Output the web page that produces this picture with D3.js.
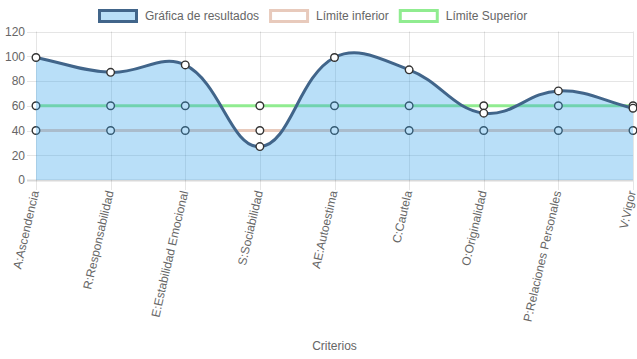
<!DOCTYPE html>
<html>
<head>
<meta charset="utf-8">
<script src="https://cdn.jsdelivr.net/npm/d3@7"></script>
<style>
  body { margin: 0; background: #fff; }
  svg text { font-family: "Liberation Sans", Arial, sans-serif; fill: #666; }
</style>
</head>
<body>
<svg id="chart" width="637" height="359"></svg>
<script>
// Criterios y resultados del perfil
const criterios = [
  "A:Ascendencia",
  "R:Responsabilidad",
  "E:Estabilidad Emocional",
  "S:Sociabilidad",
  "AE:Autoestima",
  "C:Cautela",
  "O:Originalidad",
  "P:Relaciones Personales",
  "V:Vigor",
];
const resultados = [99, 87, 93, 27, 99, 89, 54, 72, 58];
const limiteInferior = [40, 40, 40, 40, 40, 40, 40, 40, 40];
const limiteSuperior = [60, 60, 60, 60, 60, 60, 60, 60, 60];
const yTicks = [0, 20, 40, 60, 80, 100, 120];

const legendItems = [
  { label: "Gráfica de resultados", stroke: "#41658a", fill: "rgba(54,162,235,0.35)" },
  { label: "Límite inferior", stroke: "rgb(232,202,188)", fill: "#fff" },
  { label: "Límite Superior", stroke: "rgb(144,236,144)", fill: "#fff" },
];

const plotLeft = 36;
const plotRight = 633;
const plotTop = 31.5;
const plotBottom = 180;

const svg = d3.select("#chart");

const x = d3.scalePoint().domain(criterios).range([plotLeft, plotRight]);
const y = d3.scaleLinear().domain([0, 120]).range([plotBottom, plotTop]);

// gridlines
const grid = svg.append("g");
grid
  .selectAll(".hgrid")
  .data(yTicks)
  .enter()
  .append("line")
  .attr("x1", plotLeft - 9)
  .attr("x2", plotRight)
  .attr("y1", (d) => Math.round(y(d)) + 0.5)
  .attr("y2", (d) => Math.round(y(d)) + 0.5)
  .attr("stroke", (d) => (d === 0 ? "rgba(0,0,0,0.15)" : "rgba(0,0,0,0.1)"))
  .attr("stroke-width", (d) => (d === 0 ? 2 : 1));

grid
  .selectAll(".vgrid")
  .data(criterios)
  .enter()
  .append("line")
  .attr("x1", (d) => Math.round(x(d)) + 0.5)
  .attr("x2", (d) => Math.round(x(d)) + 0.5)
  .attr("y1", plotTop)
  .attr("y2", plotBottom + 10)
  .attr("stroke", "rgba(0,0,0,0.1)");

// y axis labels via d3 axis
const yAxis = svg
  .append("g")
  .attr("transform", `translate(${plotLeft - 11},0)`)
  .call(d3.axisLeft(y).tickValues(yTicks).tickSize(0).tickPadding(0));
yAxis.select(".domain").remove();
yAxis.selectAll("text").style("font-size", "12px").attr("fill", "#666");

// x axis labels
const xAxis = svg
  .append("g")
  .attr("transform", `translate(0,${plotBottom})`)
  .call(d3.axisBottom(x).tickSize(0).tickPadding(0));
xAxis.select(".domain").remove();
xAxis
  .selectAll("text")
  .style("font-size", "12px")
  .attr("fill", "#666")
  .attr("text-anchor", "end")
  .attr("y", 0)
  .attr("dy", "0.3em")
  .attr("transform", "translate(-1,11) rotate(-77)");

// axis title
svg
  .append("text")
  .attr("x", (plotLeft + plotRight) / 2)
  .attr("y", 350)
  .attr("text-anchor", "middle")
  .style("font-size", "12px")
  .text("Criterios");

// Chart.js-like spline (tension 0.4)
const splinePath = (values, closeToBase) => {
  const pts = values.map((v, i) => ({ x: x(criterios[i]), y: y(v) }));
  const t = 0.4;
  const clampY = (v) => Math.max(plotTop, Math.min(plotBottom, v));
  pts.forEach((cur, i) => {
    const prev = pts[i - 1] || cur;
    const next = pts[i + 1] || cur;
    const d01 = Math.hypot(cur.x - prev.x, cur.y - prev.y);
    const d12 = Math.hypot(next.x - cur.x, next.y - cur.y);
    let s01 = d01 / (d01 + d12);
    let s12 = d12 / (d01 + d12);
    if (isNaN(s01)) s01 = 0;
    if (isNaN(s12)) s12 = 0;
    const fa = t * s01;
    const fb = t * s12;
    cur.cpPrev = { x: cur.x - fa * (next.x - prev.x), y: clampY(cur.y - fa * (next.y - prev.y)) };
    cur.cpNext = { x: cur.x + fb * (next.x - prev.x), y: clampY(cur.y + fb * (next.y - prev.y)) };
  });
  const p = d3.path();
  p.moveTo(pts[0].x, pts[0].y);
  for (let i = 1; i < pts.length; i++) {
    const a = pts[i - 1];
    const b = pts[i];
    p.bezierCurveTo(a.cpNext.x, a.cpNext.y, b.cpPrev.x, b.cpPrev.y, b.x, b.y);
  }
  if (closeToBase) {
    p.lineTo(pts[pts.length - 1].x, y(0));
    p.lineTo(pts[0].x, y(0));
    p.closePath();
  }
  return p.toString();
};

const drawPoints = (values) => {
  svg
    .append("g")
    .selectAll("circle")
    .data(values)
    .enter()
    .append("circle")
    .attr("cx", (d, i) => x(criterios[i]))
    .attr("cy", (d) => y(d))
    .attr("r", 3.8)
    .attr("fill", "#fff")
    .attr("stroke", "#333")
    .attr("stroke-width", 1.4);
};

// datasets drawn in reverse order, like Chart.js
svg
  .append("path")
  .attr("d", splinePath(limiteSuperior, false))
  .attr("fill", "none")
  .attr("stroke", legendItems[2].stroke)
  .attr("stroke-width", 3);
drawPoints(limiteSuperior);

svg
  .append("path")
  .attr("d", splinePath(limiteInferior, false))
  .attr("fill", "none")
  .attr("stroke", legendItems[1].stroke)
  .attr("stroke-width", 3);
drawPoints(limiteInferior);

svg
  .append("path")
  .attr("d", splinePath(resultados, true))
  .attr("fill", legendItems[0].fill)
  .attr("stroke", "none");
svg
  .append("path")
  .attr("d", splinePath(resultados, false))
  .attr("fill", "none")
  .attr("stroke", legendItems[0].stroke)
  .attr("stroke-width", 3);
drawPoints(resultados);

// legend
const legend = svg.append("g");
let cursor = 0;
legendItems.forEach((item) => {
  const g = legend.append("g").attr("transform", `translate(${cursor},0)`);
  g.append("rect")
    .attr("x", 1.5)
    .attr("y", 10.5)
    .attr("width", 37)
    .attr("height", 11)
    .attr("fill", item.fill)
    .attr("stroke", item.stroke)
    .attr("stroke-width", 3);
  const txt = g
    .append("text")
    .attr("x", 47)
    .attr("y", 20)
    .style("font-size", "12px")
    .text(item.label);
  cursor += 47 + txt.node().getComputedTextLength() + 10;
});
const legendWidth = cursor - 10;
legend.attr("transform", `translate(${Math.round(313 - legendWidth / 2)},0)`);
</script>
</body>
</html>
